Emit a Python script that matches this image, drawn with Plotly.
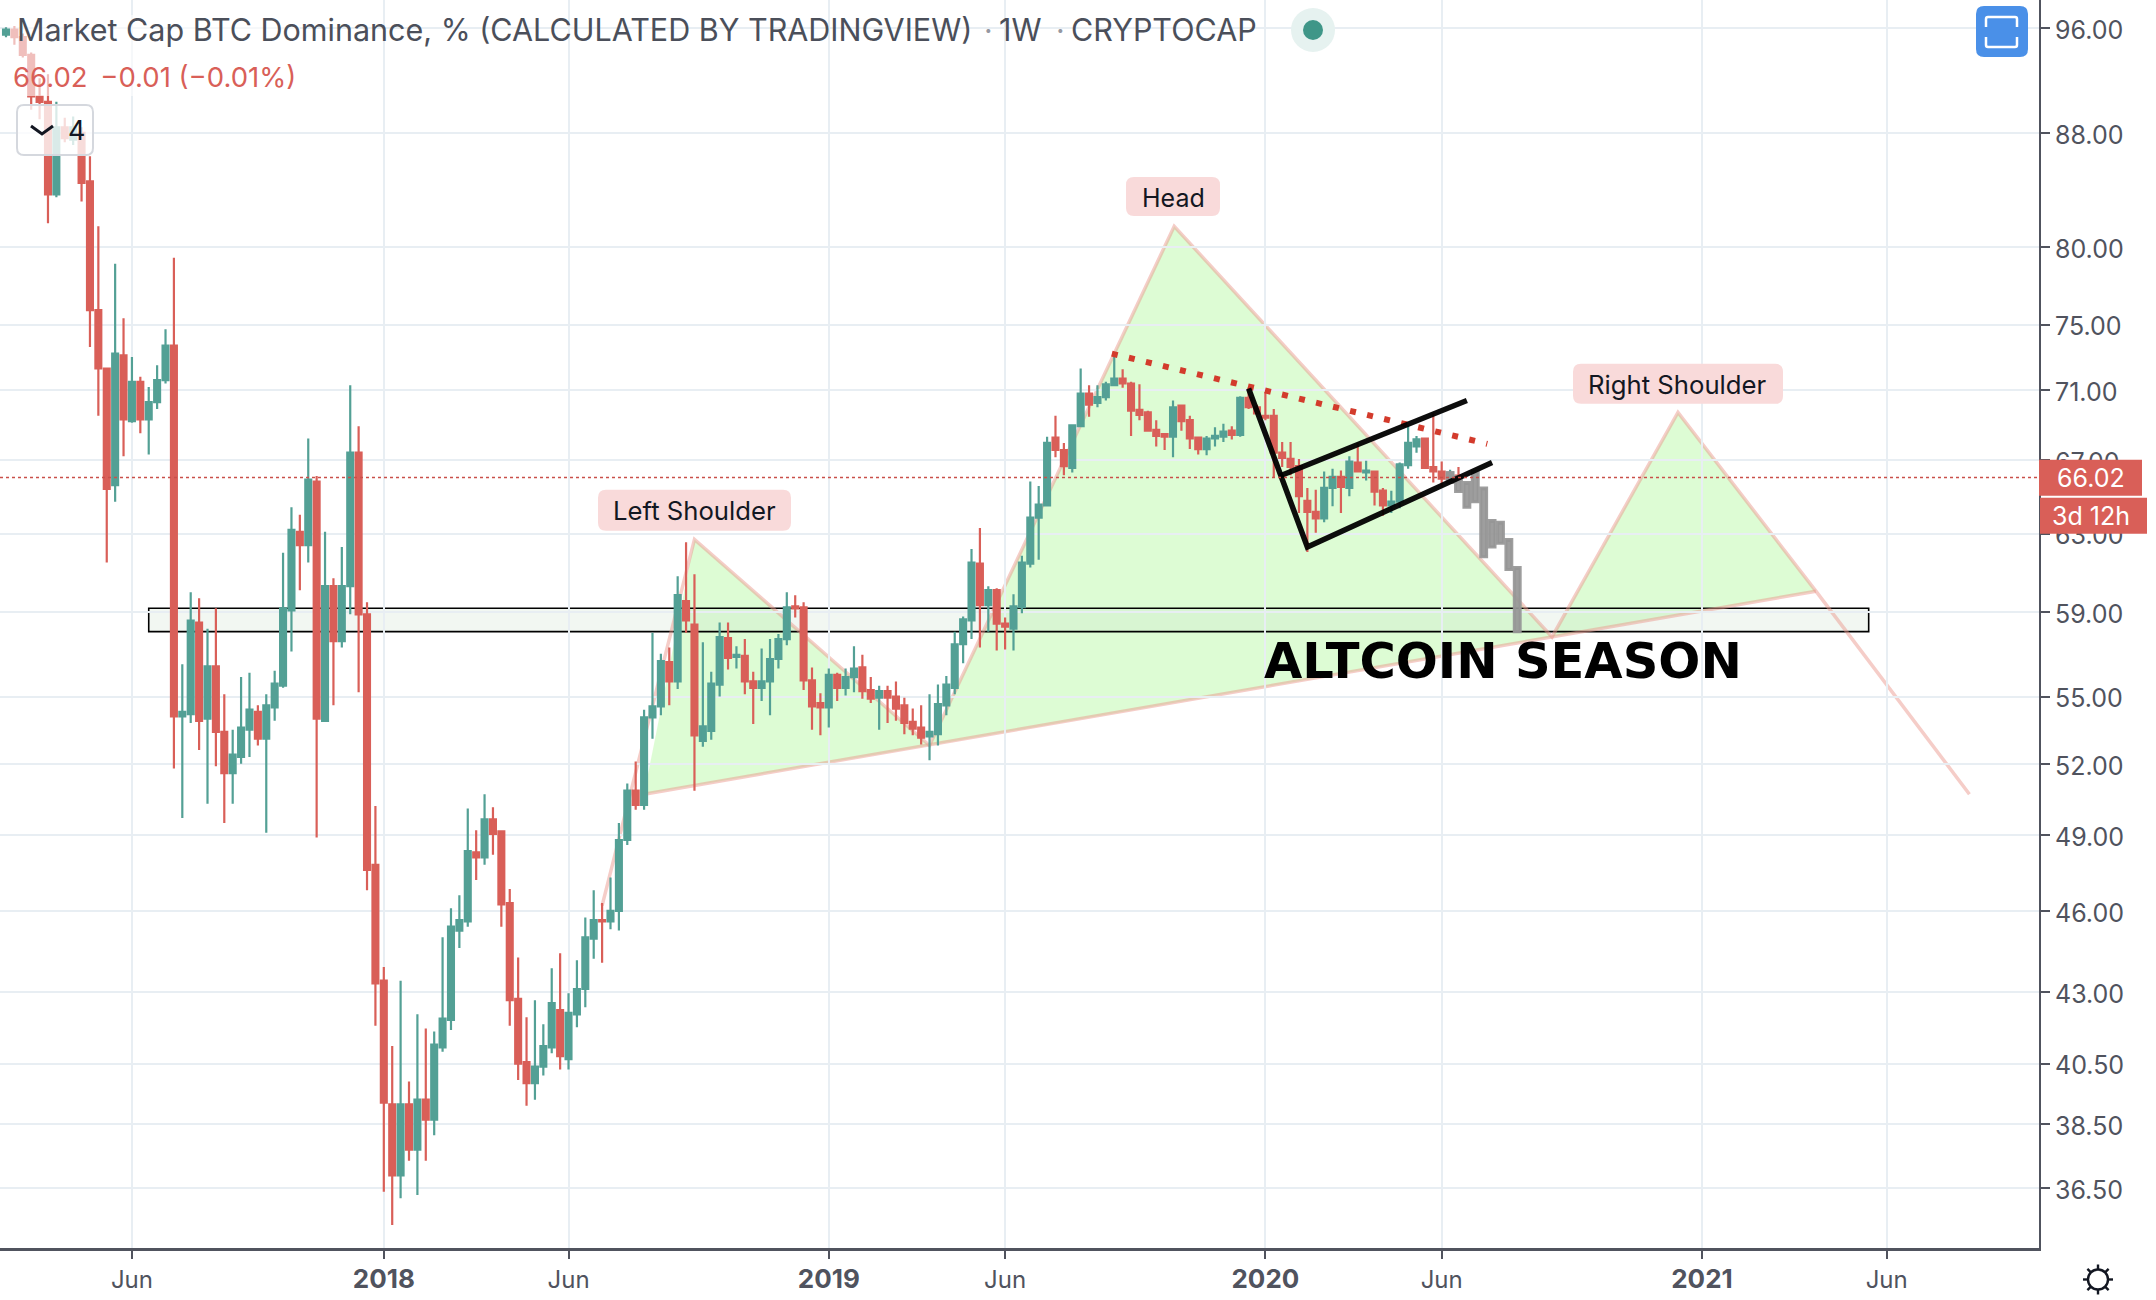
import math
import datetime as dt
import plotly.graph_objects as go

FIRST_WEEK = -45
opens = [95.5,95.9,95.3,93.9,90.7,90.3,83.6,88.4,87.5,88.0,
 84.5,75.9,72.3,65.6,73.1,69.2,71.5,69.3,70.3,71.6,
 73.7,54.1,54.2,58.5,54,56.4,53.4,51.6,52.3,53.5,
 54.3,53.1,54.5,55.5,59.1,63.1,62.4,65.8,53.9,60.3,
 57.6,60.3,67.4,58.9,47.8,
 43.4,39.15,36.9,39.15,37.7,39.3,38.65,41.05,42,45.25,
 45.6,48.3,48.1,49.65,49.15,46.3,42.75,40.55,39.85,40.4,
 41.05,42.35,40.65,42.2,43.1,44.95,45.65,45.6,46,48.8,
 50.85,50.25,54.05,54.55,56.6,55.7,59.55,58.4,53,53.45,
 55.55,57.75,56.85,56.9,55.7,55.4,55.7,56.75,57.7,59.3,
 59.25,55.75,54.7,54.5,56,55.4,55.9,56.35,55.3,54.95,
 55.25,55,54.6,53.85,53.6,53.2,53.3,54.6,55.4,57.45,
 58.6,61.45,59.35,60.1,58.45,58.2,59.25,61.45,63.85,64.5,
 68.25,67.55,66.55,68.9,70.8,70.25,70.6,71.3,71.7,71.4,
 69.85,69.7,68.7,68.45,68.3,70.1,69.25,68.25,67.6,68.2,
 68.3,68.65,68.4,70.55,70,69.5,69.5,67.4,67.05,66.65,
 64.75,64.15,63.8,65.45,66.05,65.45,66.85,66.3,66.35,65.3,
 64.5,64.7,66.7,67.75,68.2,66.6,66.35,65.95,66.13]
highs = [96.1,96.2,95.6,94.1,92.1,92.4,90.3,89.1,89.2,88.4,
 86.3,81.4,72.3,78.9,75.4,73,71.8,71.2,72.5,74.7,
 79.3,56.5,60,59.7,58.2,59.2,55.1,53.5,55.9,56.1,
 54.6,55.1,56.2,62,64.4,64,68.2,66.1,63.1,60.7,
 62.3,71.3,68.9,59.5,50.2,
 43.9,41.1,43.4,39.9,42.2,41.7,41.6,45,46.1,46.6,
 50.1,49.2,50.7,50.15,49.2,46.85,44.25,42.1,42.7,41.85,
 43.85,44.4,42.95,44.15,45.75,46.8,46.3,47.3,49.5,51.15,
 52.1,54.4,58,57,57.3,60.8,62.55,60.9,57.55,56.15,
 58.5,58.5,57.35,57.7,56.15,57.25,57.7,57.95,60,59.85,
 59.5,56.35,55.15,56.3,56.1,56.3,57.35,56.95,55.9,55.5,
 55.5,55.7,54.95,54.45,54.6,55.1,55.55,55.95,58.05,58.8,
 62.2,63.3,60.3,60.2,58.75,59.9,61.85,65.8,65.55,68.3,
 69.5,67.95,69,72.3,71.3,71.3,71.5,73.15,72.25,71.5,
 71.35,69.8,69.25,68.5,70.4,70.1,69.5,68.3,68.35,68.85,
 69.05,68.9,70.65,71.15,70.15,70.9,69.9,68,68,67.05,
 65.45,65.35,66.35,66.5,66.4,67.2,67.95,66.95,66.4,65.45,
 65.3,66.85,68.95,68.35,68.2,69.65,66.9,66.45,66.6]
lows = [95.3,94.7,93.7,89.7,89,81.6,83.4,87.3,87.1,83.1,
 73.6,69.5,61.5,64.7,67.2,69.1,68.5,67.3,69.9,71.4,
 51.8,49.7,53.8,52.6,50.3,51.9,49.5,50.3,52,52.3,
 52.8,49.1,53.9,55.4,57.1,60.1,61.5,48.9,53.9,54.6,
 57.3,58.9,55.2,46.8,41.8,
 36.4,35.4,36.2,37.35,36.3,37.35,38.15,40.9,41.65,44.6,
 45.4,47.2,47.8,48.2,45.4,41.8,39.95,39.1,39.3,40.1,
 40.85,40.3,40.3,41.75,42.45,44.2,44.05,45.3,45.25,48.6,
 50.05,50.05,53.1,54.15,54.6,55.35,58,50.85,52.75,53.05,
 55,56.25,56.3,55.1,53.75,54.8,54.15,56.3,57.4,58.75,
 55.3,53.5,53.25,53.6,54.8,55.05,55.2,54.9,54.7,53.5,
 53.8,53.9,53.3,53.25,52.85,52.15,52.8,54.15,55.1,56.55,
 57.7,57.3,58.05,57.15,57.2,57.15,58.95,61.25,61.65,64.5,
 67.15,66.15,66.3,68.9,69.45,70,70.4,71.3,71.15,68.35,
 69.25,68.6,67.75,67.55,67.15,68.65,67.6,67.3,67.25,67.75,
 68,68.15,68.3,69.9,69.6,69.25,66.05,66.6,66.15,64.1,
 62.05,63.05,63.6,64.45,64.1,65,66.3,65.85,64.5,63.95,
 64.1,64.35,66.5,67.4,66.55,65.75,65.5,65.7,65.9]
closes = [95.9,95.3,93.9,90.7,90.3,83.6,88.4,87.6,88.4,84.4,
 75.9,72.3,65.4,73.2,69.3,71.5,69.3,70.3,71.6,73.7,
 54.1,54.3,58.6,53.9,56.4,53.4,51.6,52.4,53.6,54.4,
 53.1,54.6,55.6,59.2,63.2,62.4,65.9,54,60.3,57.6,
 60.3,67.4,58.9,47.6,43.3,
 39.2,36.9,39.15,37.7,39.3,38.65,41.15,42.05,45.4,45.65,
 48.35,48.1,49.65,49.05,46.25,42.7,40.5,39.85,40.4,41.1,
 42.6,40.75,42.25,43.1,45,45.65,45.6,46,48.8,50.85,
 50.25,54.05,54.55,56.65,55.7,59.85,58.6,53.25,53.65,55.6,
 57.8,56.8,56.95,55.7,55.4,55.7,56.75,57.7,59.25,59.2,
 55.75,54.55,54.5,56,55.4,55.9,56.3,55.25,54.9,55.25,
 54.95,54.45,53.8,53.55,53.15,53.4,54.65,55.55,57.45,58.65,
 61.5,59.35,60.1,58.45,58.3,59.3,61.5,63.85,64.55,67.95,
 67.55,66.65,68.95,70.8,70.15,70.6,71.35,71.7,71.4,69.8,
 69.55,68.65,68.35,68.3,70,69.2,68.2,67.6,68.2,68.35,
 68.6,68.4,70.55,70,69.65,69.4,67.4,67.1,66.6,65,
 64.15,63.8,65.45,66.05,65.5,66.9,66.35,66.4,65.25,64.5,
 64.7,66.75,67.95,68.15,66.55,66.35,65.95,66.25,66.02]

# projected (grey) bars: week offset, low, high
proj_weeks = [127,128,129,130,131,132,133,134,135]
proj_high = [66.3,66.05,65.75,66.35,65.45,63.7,63.6,62.7,61.25]
proj_low = [65.75,65.25,64.4,64.7,61.8,62.3,62.5,61.15,58.05]

# head & shoulders drawing: week offset / value
hs_weeks = [26,37,65,94.1,139.1,154.1,170.5,188.9]
hs_vals = [46.2,62.7,52.8,81.4,57.8,69.7,60.05,50.7]
neck_weeks = [31,170.5]
neck_vals = [50.7,60.05]
box_weeks = [-28,176.9]
box_vals = [58.06,59.2]
trend_weeks = [86.7,131.5]
trend_vals = [73.2,67.9]
flag_a_weeks = [103,110,132]
flag_a_vals = [71.1,62.3,66.85]
flag_b_weeks = [106.7,129]
flag_b_vals = [66.1,70.4]

y_ticks = [96,88,80,75,71,67,63,59,55,52,49,46,43,40.5,38.5,36.5]
x_tick_weeks = [-30,0,22,53,74,105,126,157,179]
YEAR = '<span style="font-size:26px"><b>%s</b></span>'
x_tick_text = ["Jun",YEAR%"2018","Jun",YEAR%"2019","Jun",YEAR%"2020","Jun",YEAR%"2021","Jun"]
last_price = 66.02

RED = "#D95F58"
TEAL = "#53A095"
INK = "#50535E"
FONT = "Inter"
W0, H0 = 2039.0, 1248.5
BASE = dt.date(2018, 1, 1)

def wk(i):
    return (BASE + dt.timedelta(days=round(i * 7))).isoformat()
def X(p): return p / W0
def Y(p): return 1 - p / H0

def rr(x0, y0, x1, y1, r):
    a, b, c, d = X(x0), X(x1), Y(y0), Y(y1)
    rx, ry = r / W0, r / H0
    return (f"M {a+rx} {c} L {b-rx} {c} Q {b} {c} {b} {c-ry} L {b} {d+ry} Q {b} {d} {b-rx} {d} "
            f"L {a+rx} {d} Q {a} {d} {a} {d+ry} L {a} {c-ry} Q {a} {c} {a+rx} {c} Z")

fig = go.Figure()
weeks = list(range(FIRST_WEEK, FIRST_WEEK + len(opens)))
fig.add_trace(go.Candlestick(
    x=[wk(i) for i in weeks], open=opens, high=highs, low=lows, close=closes,
    increasing=dict(line=dict(color=TEAL, width=2.2), fillcolor=TEAL),
    decreasing=dict(line=dict(color=RED, width=2.2), fillcolor=RED),
    whiskerwidth=0, showlegend=False))
GREY = "rgba(150,150,150,0.92)"
fig.add_trace(go.Candlestick(
    x=[wk(i) for i in proj_weeks], open=proj_low, high=proj_high, low=proj_low, close=proj_high,
    increasing=dict(line=dict(color=GREY, width=3), fillcolor=GREY),
    decreasing=dict(line=dict(color=GREY, width=3), fillcolor=GREY),
    whiskerwidth=0, showlegend=False))
fig.add_trace(go.Scatter(x=[wk(i) for i in trend_weeks], y=trend_vals, mode="lines", showlegend=False,
    line=dict(color="#D33B2C", width=6, dash="6px,11.5px")))
for w, v in [(flag_a_weeks, flag_a_vals), (flag_b_weeks, flag_b_vals)]:
    fig.add_trace(go.Scatter(x=[wk(i) for i in w], y=v, mode="lines", showlegend=False,
        line=dict(color="rgba(0,0,0,0.95)", width=5.5)))

shapes = []
FILL = "rgba(170,247,147,0.4)"
PINK = "rgba(235,150,140,0.48)"
tri = [
    [(wk(neck_weeks[0]), neck_vals[0]), (wk(37), 62.7), (wk(65), 52.8)],
    [(wk(65), 52.8), (wk(94.1), 81.4), (wk(139.1), 57.8)],
    [(wk(139.1), 57.8), (wk(154.1), 69.7), (wk(170.5), 60.05)],
]
for t in tri:
    path = "M " + " L ".join(f"{a} {b}" for a, b in t) + " Z"
    shapes.append(dict(type="path", path=path, xref="x", yref="y", fillcolor=FILL,
                       line=dict(width=0), layer="below"))
shapes.append(dict(type="rect", xref="x", yref="y", x0=wk(box_weeks[0]), x1=wk(box_weeks[1]),
                   y0=box_vals[0], y1=box_vals[1], fillcolor="rgba(205,223,205,0.25)",
                   line=dict(color="#000000", width=1.6), layer="below"))
path = "M " + " L ".join(f"{wk(a)} {b}" for a, b in zip(hs_weeks, hs_vals))
shapes.append(dict(type="path", path=path, xref="x", yref="y", line=dict(color=PINK, width=3.5), layer="below"))
shapes.append(dict(type="line", xref="x", yref="y", x0=wk(neck_weeks[0]), x1=wk(neck_weeks[1]),
                   y0=neck_vals[0], y1=neck_vals[1], line=dict(color=PINK, width=3.5), layer="below"))
# last price line
shapes.append(dict(type="line", xref="paper", yref="y", x0=0, x1=1, y0=last_price, y1=last_price,
                   line=dict(color="#C9504A", width=1.4, dash="3px,3px"), layer="above"))
# fade behind legend
shapes.append(dict(type="rect", xref="paper", yref="paper", x0=X(10), x1=X(300), y0=Y(15), y1=Y(96),
                   fillcolor="rgba(255,255,255,0.6)", line=dict(width=0), layer="above"))
def pshape(path, fill=None, line=None, lw=0):
    shapes.append(dict(type="path", path=path, xref="paper", yref="paper", layer="above",
                       fillcolor=fill or "rgba(0,0,0,0)",
                       line=dict(color=line or "rgba(0,0,0,0)", width=lw)))
pshape(rr(17, 105, 93, 155, 7), "rgba(255,255,255,0.78)", "#D5D8DE", 2)
pshape(f"M {X(31)} {Y(126)} L {X(42)} {Y(134)} L {X(53)} {Y(126)}", None, "#131722", 3)
# labels
pshape(rr(598, 490, 791, 531, 8), "#F9DADA")
pshape(rr(1126, 177, 1220, 216, 8), "#F9DADA")
pshape(rr(1573, 364, 1783, 404, 8), "#F9DADA")
# price tags
shapes.append(dict(type="rect", xref="paper", yref="paper", x0=X(2039), x1=X(2142), y0=Y(460), y1=Y(496),
                   fillcolor=RED, line=dict(width=0), layer="above"))
shapes.append(dict(type="rect", xref="paper", yref="paper", x0=X(2040), x1=X(2147), y0=Y(498), y1=Y(534),
                   fillcolor=RED, line=dict(width=0), layer="above"))
# fullscreen button
pshape(rr(1976, 6, 2028, 57, 8), "#4A90E8")
pshape(f"M {X(1986)} {Y(27)} L {X(1986)} {Y(19)} Q {X(1986)} {Y(17)} {X(1988)} {Y(17)} L {X(2015)} {Y(17)} Q {X(2017)} {Y(17)} {X(2017)} {Y(19)} L {X(2017)} {Y(27)}", None, "#FFFFFF", 2.5)
pshape(f"M {X(1986)} {Y(37)} L {X(1986)} {Y(45)} Q {X(1986)} {Y(47)} {X(1988)} {Y(47)} L {X(2015)} {Y(47)} Q {X(2017)} {Y(47)} {X(2017)} {Y(45)} L {X(2017)} {Y(37)}", None, "#FFFFFF", 2.5)
# status dot
shapes.append(dict(type="circle", xref="paper", yref="paper", x0=X(1291), x1=X(1335), y0=Y(8), y1=Y(52),
                   fillcolor="#E6F2F0", line=dict(width=0), layer="above"))
shapes.append(dict(type="circle", xref="paper", yref="paper", x0=X(1303), x1=X(1323), y0=Y(20), y1=Y(40),
                   fillcolor="#3F9688", line=dict(width=0), layer="above"))
# sun icon
cx, cy = 2098, 1280
shapes.append(dict(type="circle", xref="paper", yref="paper", x0=X(cx-10), x1=X(cx+10), y0=Y(cy-10), y1=Y(cy+10),
                   line=dict(color="#131722", width=2.4), layer="above"))
for k in range(8):
    a = k * math.pi / 4
    pshape(f"M {X(cx+10*math.cos(a))} {Y(cy+10*math.sin(a))} L {X(cx+15*math.cos(a))} {Y(cy+15*math.sin(a))}", None, "#131722", 2.4)

def note(px, py, text, size, color="#131722", anchor="left", family=FONT):
    return dict(xref="paper", yref="paper", x=X(px), y=Y(py), text=text, showarrow=False, xanchor=anchor,
                yanchor="middle", font=dict(size=size, color=color, family=family))

annotations = [
    note(14.5, 30, "Market Cap BTC Dominance, % (CALCULATED BY TRADINGVIEW)", 30.5, "#4B4F5A"),
    note(982, 30, "·", 30, "#9598A1"),
    note(997, 30, "1W", 30.5, "#4B4F5A"),
    note(1054, 30, "·", 30, "#9598A1"),
    note(1069, 30, "CRYPTOCAP", 30.5, "#4B4F5A"),
    note(11, 77, "66.02 &#8201;−0.01 (−0.01%)", 27.5, RED),
    note(66, 131, "4", 27),
    note(694, 511, "Left Shoulder", 25.7, anchor="center"),
    note(1173, 198, "Head", 25, anchor="center"),
    note(1677, 385, "Right Shoulder", 25.7, anchor="center"),
    note(1503, 661, "<b>ALTCOIN SEASON</b>", 49.5, "#000000", anchor="center", family="DejaVu Sans"),
    note(2091, 478, "66.02", 25, "#FFFFFF", anchor="center"),
    note(2091, 516, "3d 12h", 25, "#FFFFFF", anchor="center"),
]

fig.update_layout(
    width=2156, height=1300, margin=dict(l=0, r=117, t=0, b=51.5),
    paper_bgcolor="#FFFFFF", plot_bgcolor="#FFFFFF", showlegend=False, boxgap=0,
    shapes=shapes, annotations=annotations,
    font=dict(family=FONT, color=INK),
    xaxis=dict(type="date", range=["2017-02-15", "2021-10-12"], rangeslider=dict(visible=False),
               tickmode="array", tickvals=[wk(i) for i in x_tick_weeks], ticktext=x_tick_text,
               showgrid=True, gridcolor="#E8EEF3", gridwidth=2, zeroline=False,
               showline=True, linecolor=INK, linewidth=3, ticks="outside", ticklen=8, tickwidth=2, tickcolor=INK,
               tickfont=dict(size=24, color=INK, family=FONT)),
    yaxis=dict(type="log", side="right", range=[math.log10(34.73), math.log10(98.3)],
               tickmode="array", tickvals=y_ticks, ticktext=[f"{v:.2f}" for v in y_ticks],
               showgrid=True, gridcolor="#E8EEF3", gridwidth=2, zeroline=False,
               showline=True, linecolor=INK, linewidth=2, ticks="outside", ticklen=9, tickwidth=2, tickcolor=INK,
               ticklabelshift=2,
               tickfont=dict(size=25, color=INK, family=FONT)),
)
fig.write_html("out.html", config=dict(displayModeBar=False),
               post_script="document.body.style.margin='0';")
